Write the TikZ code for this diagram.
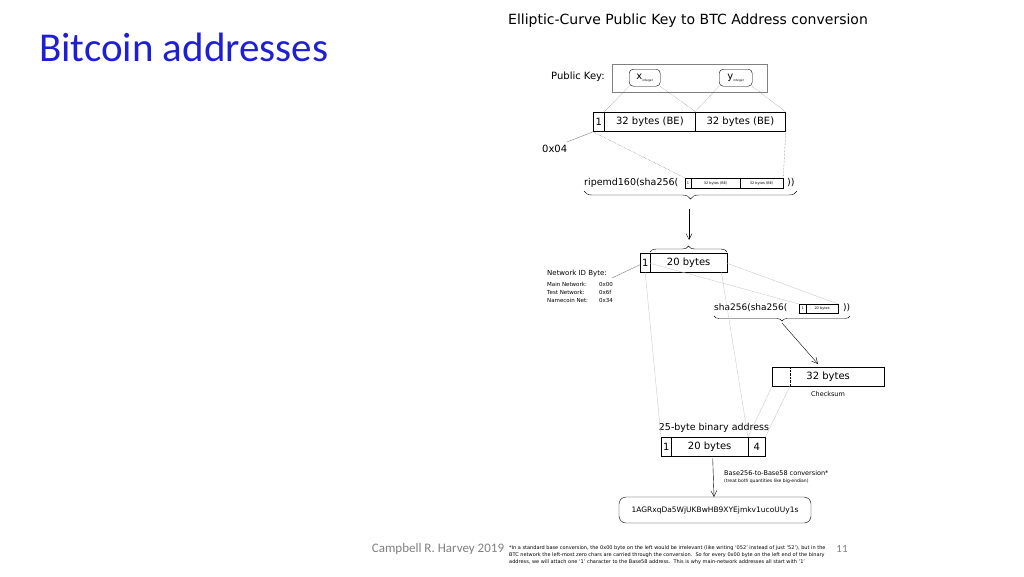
\documentclass[tikz,border=0pt]{standalone}
\usepackage{fontspec}
\setmainfont{DejaVu Sans}
\newfontfamily\calfont{Carlito}
\usetikzlibrary{arrows.meta,decorations.pathreplacing}
\definecolor{ttl}{RGB}{30,30,210}
\begin{document}
\begin{tikzpicture}[x=1pt,y=-1pt,
 cell/.style={draw,thick,minimum height=19pt,inner sep=0pt,anchor=north west,font=\fontsize{10}{10}\selectfont},
 scell/.style={draw,very thin,minimum height=10pt,inner sep=0pt,anchor=north west,font=\fontsize{3.5}{4}\selectfont},
 dot/.style={densely dotted,gray!70!black,thin},
 thinl/.style={gray!40,thin},
 lbl/.style={font=\fontsize{9}{10}\selectfont,inner sep=0pt},
 arr/.style={-{Straight Barb[length=6pt,width=6pt]},thin}]
\useasboundingbox (0,0) rectangle (1024,576);
\node[font=\calfont\fontsize{41}{44}\selectfont,text=ttl,anchor=west,inner sep=0] (title) at (39,47) {Bitcoin addresses};
\node[font=\fontsize{14}{16}\selectfont] (head) at (688,21) {Elliptic-Curve Public Key to BTC Address conversion};
% public key
\draw[gray] (612,64) rectangle (767,92);
\node[lbl,anchor=west,font=\fontsize{10}{10}\selectfont] (pk) at (551,77) {Public Key:};
\node[draw,rounded corners=4pt,minimum width=31pt,minimum height=17pt,inner sep=0,anchor=north west] (xi) at (629,69) {x\raisebox{-2pt}{\fontsize{3}{3}\selectfont integer}};
\node[draw,rounded corners=4pt,minimum width=33pt,minimum height=17pt,inner sep=0,anchor=north west] (yi) at (719,69) {y\raisebox{-2pt}{\fontsize{3}{3}\selectfont integer}};
% 65 byte row
\node[cell,minimum width=11pt] (c1) at (593,112) {1};
\node[cell,minimum width=91pt] (c2) at (604,112) {32 bytes (BE)};
\node[cell,minimum width=90pt] (c3) at (695,112) {32 bytes (BE)};
\node[lbl,anchor=west,font=\fontsize{10}{10}\selectfont] (h04) at (542,149) {0x04};
\draw[thin,gray] (c1.south west) -- (567,142);
\draw[dot] (xi.south west) -- (c2.north west);
\draw[dot] (xi.south east) -- (c2.north east);
\draw[dot] (yi.south west) -- (c3.north west);
\draw[dot] (yi.south east) -- (c3.north east);
% ripemd
\node[lbl,anchor=west,font=\fontsize{9.5}{10}\selectfont] (rip) at (584,183) {ripemd160(sha256(};
\node[scell,minimum width=6pt] (s1) at (685,178) {1};
\node[scell,minimum width=49pt] (s2) at (691,178) {32 bytes (BE)};
\node[scell,minimum width=43pt] (s3) at (740,178) {32 bytes (BE)};
\node[lbl,anchor=west,font=\fontsize{9.5}{10}\selectfont] (rp) at (787,183) {))};
\draw[dot] (c1.south west) -- (s1.north west);
\draw[dot] (c3.south east) -- (s3.north east);
\draw[decorate,decoration={brace,amplitude=8pt,mirror},thin] (584,191) -- (797,191);
\draw[arr] (689,209) -- (689,240);
% 20 bytes
\draw[decorate,decoration={brace,amplitude=6pt},thin] (650,252) -- (727,252);
\node[cell,minimum width=10pt,thin] (d1) at (640,253) {1};
\node[cell,minimum width=77pt,thin] (d2) at (650,253) {20 bytes};
\node[lbl,anchor=west,font=\fontsize{7}{8}\selectfont] (nid) at (547,274) {Network ID Byte:};
\draw[thin,gray] (d1.west) ++(0,2) -- (612,278);
\node[anchor=north west,inner sep=0,font=\fontsize{5.5}{8}\selectfont,align=left] (nets) at (547,282) {Main Network:\\Test Network:\\Namecoin Net:};
\node[anchor=north west,inner sep=0,font=\fontsize{5.5}{8}\selectfont,align=left] (netv) at (599,282) {0x00\\0x6f\\0x34};
% sha256
\node[lbl,anchor=west] (sha) at (714,308) {sha256(sha256(};
\node[scell,minimum width=7pt,minimum height=9pt] (t1) at (799,304) {1};
\node[scell,minimum width=32pt,minimum height=9pt] (t2) at (806,304) {20 bytes};
\node[lbl,anchor=west] (sp) at (843,308) {))};
\draw[thinl] (d1.south east) ++(0,-9) -- (t1.north west);
\draw[thinl] (d2.south east) ++(0,-9) -- (t2.north east);
\draw[decorate,decoration={brace,amplitude=5pt,mirror},thin] (714,316) -- (850,316);
\draw[arr] (782,323) -- (818,364);
% checksum
\node[cell,minimum width=112pt,thin] (cs) at (772,367) {32 bytes};
\draw[densely dotted] (790,367) -- (790,386);
\node[font=\fontsize{6.5}{8}\selectfont] (csl) at (828,394) {Checksum};
% 25 byte
\node[lbl,font=\fontsize{9.5}{10}\selectfont] (b25) at (714,428) {25-byte binary address};
\node[cell,minimum width=10pt,thin] (e1) at (661,437) {1};
\node[cell,minimum width=77pt,thin] (e2) at (671,437) {20 bytes};
\node[cell,minimum width=17pt,thin] (e3) at (748,437) {4};
\draw[thinl] (d1.south) -- (e1.north west);
\draw[thinl] (d2.south east) ++(-6,0) -- (e3.north west);
\draw[thinl] (cs.south west) -- (e3.north west);
\draw[thinl] (790,386) -- (e3.north east);
% base58
\draw[arr] (e2.south) ++(3,2) -- (714,497);
\node[anchor=west,inner sep=0,font=\fontsize{6.5}{8}\selectfont] (conv) at (724,473) {Base256-to-Base58 conversion*};
\node[anchor=west,inner sep=0,font=\fontsize{4.5}{6}\selectfont] (conv2) at (724,481) {(treat both quantities like big-endian)};
\draw[rounded corners=7pt] (619,497) rectangle (811,523);
\node[inner sep=0,font=\fontsize{7.5}{9}\selectfont] (res) at (715,510) {1AGRxqDa5WjUKBwHB9XYEjmkv1ucoUUy1s};
% footer
\node[font=\calfont\fontsize{13}{14}\selectfont,text=gray] (auth) at (438,549) {Campbell R. Harvey 2019};
\node[font=\calfont\fontsize{11}{12}\selectfont,text=gray] (pg) at (842,549) {11};
\node[anchor=north west,inner sep=0,font=\fontsize{5}{7}\selectfont,align=left] (fn) at (509,545) {*In a standard base conversion, the 0x00 byte on the left would be irrelevant (like writing `052' instead of just `52'), but in the\\
BTC network the left-most zero chars are carried through the conversion.\ \ So for every 0x00 byte on the left end of the binary\\
address, we will attach one `1' character to the Base58 address.\ \ This is why main-network addresses all start with `1'};
\end{tikzpicture}
\end{document}
